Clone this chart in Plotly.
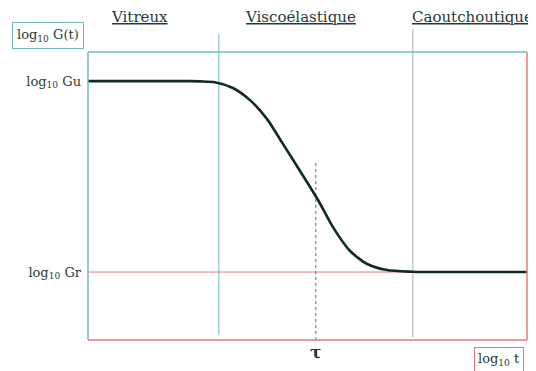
import plotly.graph_objects as go

# data (arbitrary log units)
log_t = [0.0, 1.0, 2.0, 2.32, 2.55, 2.89, 3.30, 3.69, 4.08, 4.44, 4.83, 5.24, 5.58, 5.97, 6.36, 6.81, 7.40, 7.56, 8.5, 10.0]
log_G = [8.99, 8.99, 8.99, 8.99, 8.98, 8.95, 8.75, 8.33, 7.67, 6.81, 5.87, 4.86, 3.92, 3.09, 2.64, 2.43, 2.37, 2.36, 2.36, 2.36]
log_Gu = 8.99
log_Gr = 2.36
tau = 5.19
region_bounds = [2.98, 7.40]
region_names = ["Vitreux", "Viscoélastique", "Caoutchoutique"]
region_label_x = [1.17, 4.83, 8.76]

TEAL = "#72b8b8"
RED = "#e57a7a"
TXT = "#1f3a3a"
SERIF = "DejaVu Serif"

fig = go.Figure()
fig.add_trace(go.Scatter(x=log_t, y=log_G, mode="lines",
                         line=dict(color="#0f2a28", width=2.6, shape="spline", smoothing=0.7),
                         hoverinfo="skip", showlegend=False))

shapes = []
shapes.append(dict(type="line", xref="x", yref="y", x0=0, x1=10, y0=log_Gr, y1=log_Gr,
                   line=dict(color=RED, width=1), layer="below"))
shapes.append(dict(type="line", xref="x", yref="paper", x0=region_bounds[0], x1=region_bounds[0],
                   y0=0.017, y1=1.063, line=dict(color=TEAL, width=1), layer="below"))
shapes.append(dict(type="line", xref="x", yref="paper", x0=region_bounds[1], x1=region_bounds[1],
                   y0=0.01, y1=1.08, line=dict(color="#a9b0b0", width=1), layer="below"))
shapes.append(dict(type="line", xref="x", yref="y", x0=tau, x1=tau, y0=0, y1=6.25,
                   line=dict(color="#606868", width=1, dash="dot"), layer="below"))
shapes.append(dict(type="line", xref="paper", yref="paper", x0=0, x1=0, y0=0, y1=1, line=dict(color=TEAL, width=1.5)))
shapes.append(dict(type="line", xref="paper", yref="paper", x0=0, x1=1, y0=1, y1=1, line=dict(color=TEAL, width=1.5)))
shapes.append(dict(type="line", xref="paper", yref="paper", x0=1, x1=1, y0=0, y1=1, line=dict(color=RED, width=1.5)))
shapes.append(dict(type="line", xref="paper", yref="paper", x0=0, x1=1, y0=0, y1=0, line=dict(color=RED, width=1.5)))

annotations = []
for name, xv in zip(region_names, region_label_x):
    annotations.append(dict(x=xv, y=1.12, xref="x", yref="paper", text=f"<u>{name}</u>",
                            showarrow=False, font=dict(family=SERIF, size=15, color=TXT),
                            xanchor="center", yanchor="middle"))
annotations.append(dict(x=(48 - 88) / 439, y=(340 - 36) / 288, xref="paper", yref="paper",
                        text="log<sub>10</sub> G(t)", showarrow=False, xanchor="center", yanchor="middle",
                        font=dict(family=SERIF, size=13, color=TXT),
                        bordercolor=TEAL, borderwidth=1, borderpad=4, bgcolor="white"))
annotations.append(dict(x=(499 - 88) / 439, y=(340 - 359) / 288, xref="paper", yref="paper",
                        text="log<sub>10</sub> t", showarrow=False, xanchor="center", yanchor="middle",
                        font=dict(family=SERIF, size=13, color=TXT),
                        bordercolor=RED, borderwidth=1, borderpad=3, bgcolor="white"))

# page body has an 8px margin: the figure is offset by (8, 8)
fig.update_layout(
    width=528, height=363,
    margin=dict(l=80, r=9, t=44, b=31),
    paper_bgcolor="white", plot_bgcolor="white",
    shapes=shapes, annotations=annotations,
    xaxis=dict(range=[0, 10], showgrid=False, zeroline=False, showline=False,
               tickvals=[tau], ticktext=["<b>τ</b>"], ticks="",
               tickfont=dict(family=SERIF, size=17, color=TXT)),
    yaxis=dict(range=[0, 10], showgrid=False, zeroline=False, showline=False,
               tickvals=[log_Gr, log_Gu],
               ticktext=["log<sub>10</sub> Gr", "log<sub>10</sub> Gu"], ticks="",
               ticklabelstandoff=6,
               tickfont=dict(family=SERIF, size=13, color=TXT)),
)

fig.write_html("out.html")
